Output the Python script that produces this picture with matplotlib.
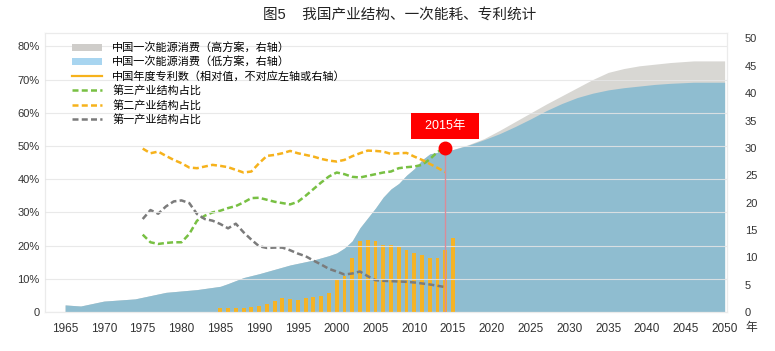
import matplotlib
matplotlib.use("Agg")
import matplotlib.pyplot as plt
from matplotlib.lines import Line2D
from matplotlib.patches import Patch

plt.rcParams["font.family"] = ["Liberation Sans", "Noto Sans CJK SC"]

# primary energy consumption (right axis)
energy_years = [1965, 1967, 1970, 1974, 1978, 1982, 1985, 1986, 1988, 1990,
                1992, 1994, 1997, 1999, 2000, 2001, 2002, 2003, 2004, 2005,
                2006, 2007, 2008, 2009, 2010, 2011, 2012, 2013, 2015, 2017,
                2019, 2021, 2023, 2025, 2027, 2029, 2031, 2033, 2035, 2037,
                2039, 2041, 2043, 2046, 2050]
energy_low = [1.3, 1.1, 2.0, 2.4, 3.6, 4.1, 4.7, 5.2, 6.3, 7.0,
              7.8, 8.6, 9.5, 10.3, 10.8, 11.7, 13.0, 15.4, 17.2, 19.0,
              21.0, 22.5, 23.5, 25.0, 26.2, 27.8, 28.9, 29.2, 29.7, 30.5,
              31.5, 32.6, 33.9, 35.3, 36.8, 38.1, 39.2, 40.0, 40.6, 41.0,
              41.3, 41.6, 41.8, 42.0, 42.0]
energy_high = [1.3, 1.1, 2.0, 2.4, 3.6, 4.1, 4.7, 5.2, 6.3, 7.0,
               7.8, 8.6, 9.5, 10.3, 10.8, 11.7, 13.0, 15.4, 17.2, 19.0,
               21.0, 22.5, 23.5, 25.0, 26.2, 27.8, 28.9, 29.2, 29.7, 30.6,
               31.7, 33.2, 34.8, 36.4, 38.0, 39.5, 41.0, 42.5, 43.8, 44.5,
               45.0, 45.3, 45.6, 45.9, 45.9]

# annual patents (relative, drawn against right axis)
patent_years = list(range(1985, 2016))
patents = [0.75, 0.7, 0.75, 0.8, 0.85, 1.1, 1.4, 2.0, 2.5, 2.3,
           2.2, 2.5, 2.7, 2.9, 3.5, 5.9, 6.6, 9.9, 13.0, 13.1,
           13.0, 12.3, 12.2, 11.8, 11.3, 10.7, 10.4, 9.9, 9.9, 11.3,
           13.6]

# industry structure shares, % (left axis)
share_years = list(range(1975, 2015))
tertiary = [23.3, 21.0, 20.5, 20.8, 21.0, 21.0, 23.5, 27.5, 29.0, 30.0,
            30.5, 31.3, 31.9, 33.0, 34.3, 34.4, 33.8, 33.2, 32.8, 32.4,
            33.2, 35.0, 37.0, 39.0, 40.8, 42.0, 41.5, 40.7, 40.5, 41.0,
            41.5, 42.0, 42.3, 43.3, 43.6, 43.8, 44.3, 46.0, 48.2, 49.5]
secondary = [49.2, 47.8, 48.3, 47.0, 45.8, 44.8, 43.5, 43.3, 43.8, 44.3,
             44.0, 43.6, 42.8, 42.0, 42.3, 44.8, 47.0, 47.3, 47.8, 48.5,
             47.8, 47.3, 46.8, 46.1, 45.6, 45.3, 45.8, 46.9, 47.8, 48.6,
             48.5, 48.3, 47.6, 47.8, 47.9, 46.8, 45.8, 44.6, 43.4, 42.1]
primary = [28.0, 30.7, 29.6, 31.8, 33.3, 33.6, 32.8, 29.5, 28.0, 27.5,
           26.5, 25.2, 26.6, 24.0, 21.8, 19.8, 19.3, 19.4, 19.4, 18.6,
           17.6, 16.8, 15.5, 14.3, 13.0, 12.2, 11.3, 11.6, 12.2, 10.8,
           9.6, 9.4, 9.3, 9.2, 9.1, 8.9, 8.6, 8.3, 7.9, 7.5]

marker_year = 2014
marker_share = 49.3
marker_label = "  2015年  "

x_ticks = list(range(1965, 2051, 5))
left_ticks = list(range(0, 81, 10))
left_labels = ["0"] + [f"{v}%" for v in left_ticks[1:]]
right_ticks = list(range(0, 51, 5))

legend_labels = [
    "中国一次能源消费（高方案，右轴）",
    "中国一次能源消费（低方案，右轴）",
    "中国年度专利数（相对值，不对应左轴或右轴）",
    "第三产业结构占比",
    "第二产业结构占比",
    "第一产业结构占比",
]

c_grey_area = "#d8d7d3"
c_blue_area = "#8fbdd0"
c_bar = "#f5b325"
c_green = "#78c043"
c_orange = "#f6b21c"
c_grey = "#7b7b7b"
text_c = "#333333"

fig = plt.figure(figsize=(7.75, 3.51), dpi=100)
ax = fig.add_axes([0.058, 0.111, 0.880, 0.795])
ax2 = ax.twinx()
ax.set_zorder(2)
ax2.set_zorder(1)
ax.patch.set_visible(False)

# right axis: energy areas and patent bars
ax2.fill_between(energy_years, 0, energy_high, color=c_grey_area, lw=0)
ax2.fill_between(energy_years, 0, energy_low, color=c_blue_area, lw=0)
ax2.bar(patent_years, patents, width=0.5, color=c_bar, zorder=3)
ax2.set_ylim(0, 51)
ax2.set_yticks(right_ticks)

# left axis: structure shares
dash = (0, (2.4, 1.3))
ax.plot(share_years, tertiary, color=c_green, lw=1.8, ls=dash)
ax.plot(share_years, secondary, color=c_orange, lw=1.8, ls=dash)
ax.plot(share_years, primary, color=c_grey, lw=1.8, ls=dash)
ax.set_ylim(0, 84)
ax.set_yticks(left_ticks)
ax.set_yticklabels(left_labels)
ax.yaxis.grid(True, color="#e6e6e6", lw=0.8, alpha=0.85)
ax.set_axisbelow(False)

# 2015 marker
ax.plot([marker_year, marker_year], [0, marker_share], color="#d98c99", lw=1, zorder=4)
ax.plot(marker_year, marker_share, "o", color="#ff0000", ms=9, zorder=6)
ax.annotate(marker_label, xy=(marker_year, marker_share), xytext=(0, 16),
            textcoords="offset points", ha="center", va="center",
            color="white", fontsize=9, zorder=7,
            bbox=dict(boxstyle="square,pad=0.55", fc="#ff0000", ec="none"))

ax.set_xlim(1962.4, 2050.3)
ax.set_xticks(x_ticks)
for a in (ax, ax2):
    a.tick_params(length=0, colors=text_c, labelsize=8)
    for s in a.spines.values():
        s.set_color("#ebebeb")
        s.set_linewidth(0.8)
ax.tick_params(axis="x", pad=8, labelsize=8.5)
ax.tick_params(axis="y", pad=4)
ax2.tick_params(axis="y", pad=13)

fig.text(0.970, 0.0655, "年", ha="center", va="center", fontsize=8.5, color=text_c)
fig.text(0.516, 0.957, "图5    我国产业结构、一次能耗、专利统计",
         ha="center", va="center", fontsize=10.5, color="#222222")

handles = [
    Patch(facecolor="#cfcdca", edgecolor="none"),
    Patch(facecolor="#a8d5f0", edgecolor="none"),
    Line2D([], [], color=c_orange, lw=1.6),
    Line2D([], [], color=c_green, lw=1.8, ls=dash),
    Line2D([], [], color=c_orange, lw=1.8, ls=dash),
    Line2D([], [], color=c_grey, lw=1.8, ls=dash),
]
ax.legend(handles, legend_labels, loc="upper left", bbox_to_anchor=(0.03, 0.99),
          frameon=False, fontsize=8, handlelength=2.7, handleheight=0.6,
          handletextpad=0.9, labelspacing=0.3, borderaxespad=0.2)

fig.savefig("out.png", dpi=100)
